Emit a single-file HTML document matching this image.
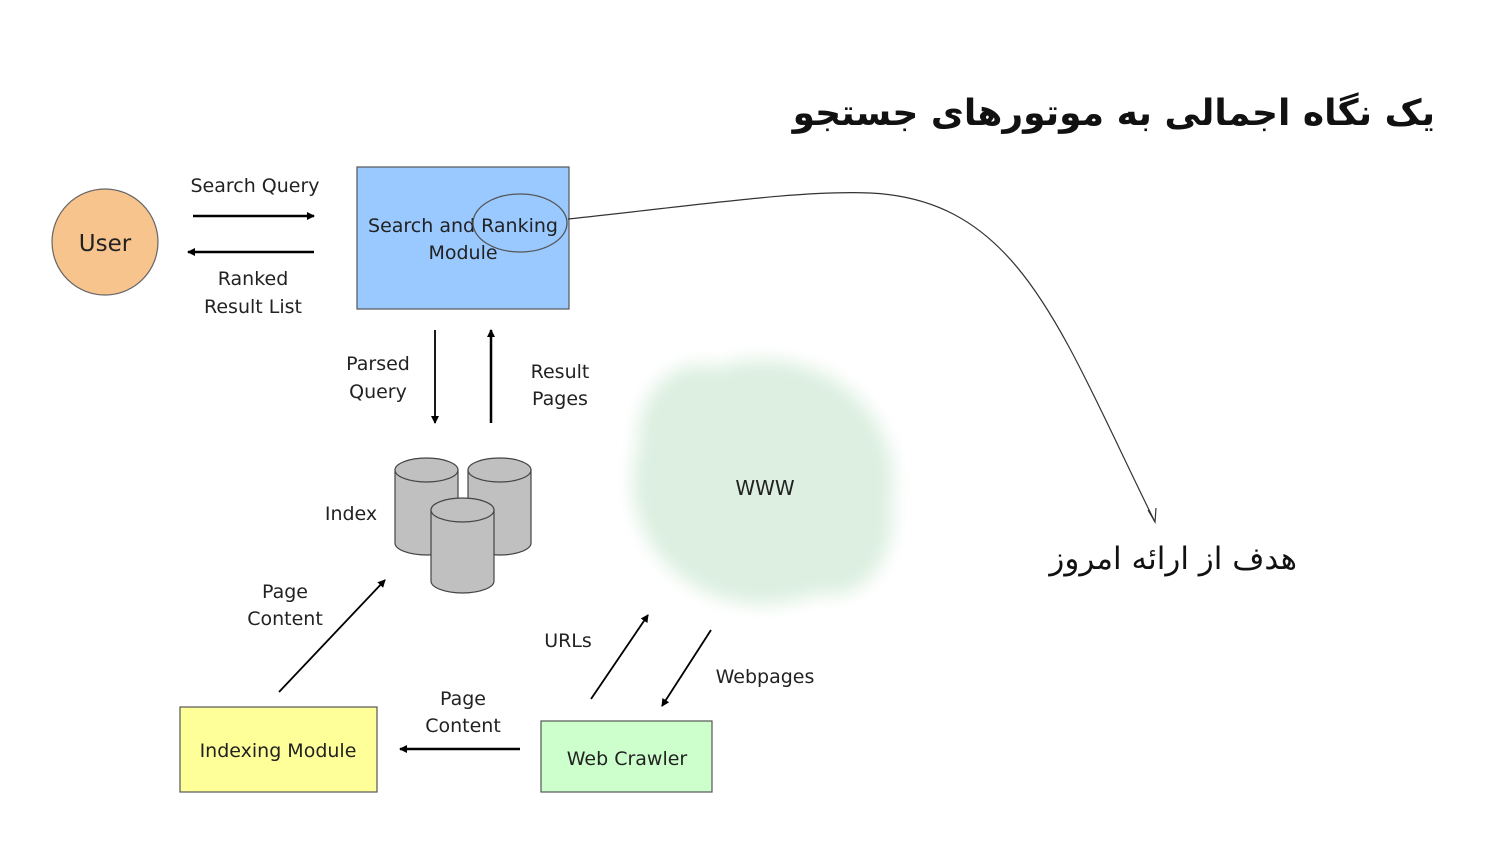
<!DOCTYPE html>
<html><head><meta charset="utf-8"><style>
body{margin:0;background:#fff;position:relative;width:1500px;height:844px;overflow:hidden;}
svg{display:block;position:absolute;left:0;top:0;}
text{font-family:"DejaVu Sans","Liberation Sans",sans-serif;fill:#222;}
.fa{position:absolute;font-family:"DejaVu Sans","Liberation Sans",sans-serif;direction:rtl;white-space:nowrap;color:#111;text-align:right;}
</style></head><body>
<svg width="1500" height="844" viewBox="0 0 1500 844" xmlns="http://www.w3.org/2000/svg">
<defs>
<marker id="ah" markerWidth="8" markerHeight="8" refX="7" refY="4" orient="auto" markerUnits="userSpaceOnUse"><path d="M0,0 L8,4 L0,8 z" fill="#000"/></marker>
<filter id="bl" x="-20%" y="-20%" width="140%" height="140%"><feGaussianBlur stdDeviation="9"/></filter>
</defs>

<g filter="url(#bl)" fill="#dcefe0">
<ellipse cx="763" cy="482" rx="130" ry="122"/>
<ellipse cx="700" cy="440" rx="62" ry="75"/>
<ellipse cx="830" cy="520" rx="62" ry="75"/>
</g>
<text x="765" y="495" text-anchor="middle" font-size="20">WWW</text>

<circle cx="105" cy="242" r="53" fill="#f8c48e" stroke="#666" stroke-width="1.2"/>
<text x="105" y="251" text-anchor="middle" font-size="23">User</text>
<text x="255" y="192" text-anchor="middle" font-size="19">Search Query</text>
<line x1="193" y1="216" x2="314" y2="216" stroke="#000" stroke-width="2.5" marker-end="url(#ah)"/>
<line x1="314" y1="252" x2="188" y2="252" stroke="#000" stroke-width="2.5" marker-end="url(#ah)"/>
<text x="253" y="285" text-anchor="middle" font-size="19">Ranked</text>
<text x="253" y="313" text-anchor="middle" font-size="19">Result List</text>

<rect x="357" y="167" width="212" height="142" fill="#99c9ff" stroke="#555" stroke-width="1.2"/>
<text x="463" y="232" text-anchor="middle" font-size="19">Search and Ranking</text>
<text x="463" y="259" text-anchor="middle" font-size="19">Module</text>
<ellipse cx="520" cy="223" rx="47" ry="29" fill="none" stroke="#555" stroke-width="1.3"/>
<path d="M568,219 C700,205 800,190 870,193 C1020,200 1060,330 1155,522" fill="none" stroke="#333" stroke-width="1.2"/>
<path d="M1148,510 L1155,522 L1156,508" fill="none" stroke="#333" stroke-width="1.2"/>

<text x="378" y="370" text-anchor="middle" font-size="19">Parsed</text>
<text x="378" y="398" text-anchor="middle" font-size="19">Query</text>
<line x1="435" y1="330" x2="435" y2="423" stroke="#000" stroke-width="1.8" marker-end="url(#ah)"/>
<line x1="491" y1="423" x2="491" y2="330" stroke="#000" stroke-width="2.5" marker-end="url(#ah)"/>
<text x="560" y="378" text-anchor="middle" font-size="19">Result</text>
<text x="560" y="405" text-anchor="middle" font-size="19">Pages</text>

<g fill="#c0c0c0" stroke="#444" stroke-width="1.2">
<path d="M395,470 L395,543 A31.5,12 0 0 0 458,543 L458,470 Z"/><ellipse cx="426.5" cy="470" rx="31.5" ry="12"/>
<path d="M468,470 L468,543 A31.5,12 0 0 0 531,543 L531,470 Z"/><ellipse cx="499.5" cy="470" rx="31.5" ry="12"/>
<path d="M431,510 L431,581 A31.5,12 0 0 0 494,581 L494,510 Z"/><ellipse cx="462.5" cy="510" rx="31.5" ry="12"/>
</g>
<text x="351" y="520" text-anchor="middle" font-size="19">Index</text>

<text x="285" y="598" text-anchor="middle" font-size="19">Page</text>
<text x="285" y="625" text-anchor="middle" font-size="19">Content</text>
<line x1="279" y1="692" x2="385" y2="580" stroke="#000" stroke-width="1.8" marker-end="url(#ah)"/>

<rect x="180" y="707" width="197" height="85" fill="#ffff99" stroke="#555" stroke-width="1.2"/>
<text x="278" y="757" text-anchor="middle" font-size="19">Indexing Module</text>
<text x="463" y="705" text-anchor="middle" font-size="19">Page</text>
<text x="463" y="732" text-anchor="middle" font-size="19">Content</text>
<line x1="520" y1="749" x2="400" y2="749" stroke="#000" stroke-width="2.5" marker-end="url(#ah)"/>

<rect x="541" y="721" width="171" height="71" fill="#ccffcc" stroke="#555" stroke-width="1.2"/>
<text x="627" y="765" text-anchor="middle" font-size="19">Web Crawler</text>
<text x="568" y="647" text-anchor="middle" font-size="19">URLs</text>
<line x1="591" y1="699" x2="648" y2="615" stroke="#000" stroke-width="1.8" marker-end="url(#ah)"/>
<line x1="711" y1="630" x2="662" y2="706" stroke="#000" stroke-width="1.8" marker-end="url(#ah)"/>
<text x="765" y="683" text-anchor="middle" font-size="19">Webpages</text>
</svg>
<div class="fa" style="right:65px;top:88px;font-size:36px;font-weight:bold;line-height:52px;">یک نگاه اجمالی به موتورهای جستجو</div>
<div class="fa" style="right:203px;top:537px;font-size:31px;line-height:44px;">هدف از ارائه امروز</div>
</body></html>
